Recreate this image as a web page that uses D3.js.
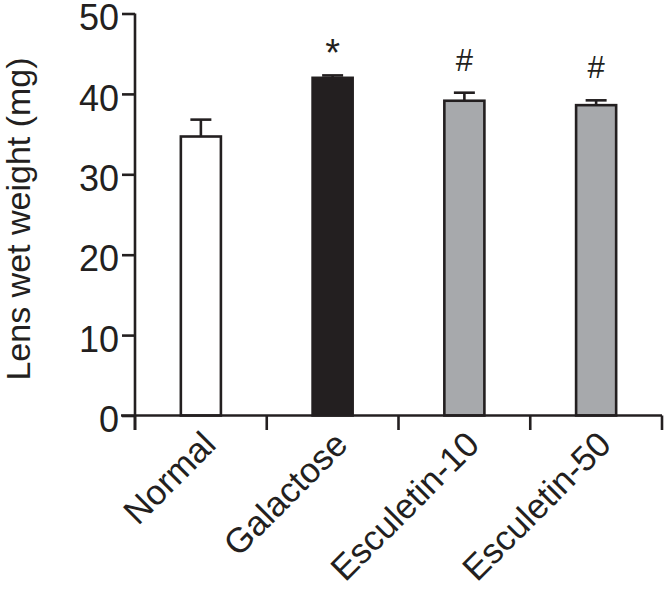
<!DOCTYPE html>
<html>
<head>
<meta charset="utf-8">
<script src="https://cdn.jsdelivr.net/npm/d3@7/dist/d3.min.js"></script>
<style>
  html, body { margin: 0; padding: 0; background: #fff; }
  svg { display: block; }
  text { font-family: "Liberation Sans", Arial, Helvetica, sans-serif; fill: #231f20; }
</style>
</head>
<body>
<svg id="chart" width="664" height="590"></svg>
<script>
const categories = ["Normal", "Galactose", "Esculetin-10", "Esculetin-50"];
const means = [34.7, 42.0, 39.15, 38.6];
const errors = [2.1, 0.3, 1.0, 0.6];
const markers = ["", "*", "#", "#"];
const fills = ["#ffffff", "#231f20", "#a7a9ac", "#a7a9ac"];
const yTicks = [0, 10, 20, 30, 40, 50];
const yTitle = "Lens wet weight (mg)";

const ink = "#231f20";
const svg = d3.select("#chart");

const x = d3.scaleBand().domain(categories).range([135, 662]).paddingInner(0).paddingOuter(0);
const y = d3.scaleLinear().domain([0, 50]).range([415.5, 13.5]);

const barW = x.bandwidth() * 0.304;
const capW = 21;
const sw = 2.6;

const data = categories.map((c, i) => ({c, m: means[i], e: errors[i], mk: markers[i], f: fills[i]}));

// Bars
svg.append("g").selectAll("rect").data(data).join("rect")
  .attr("x", d => x(d.c) + x.bandwidth() / 2 - barW / 2)
  .attr("y", d => y(d.m))
  .attr("width", barW)
  .attr("height", d => y(0) - y(d.m))
  .attr("fill", d => d.f)
  .attr("stroke", ink)
  .attr("stroke-width", sw);

// Error bars
const eg = svg.append("g").attr("stroke", ink).attr("stroke-width", sw);
eg.selectAll("line.v").data(data).join("line").attr("class", "v")
  .attr("x1", d => x(d.c) + x.bandwidth() / 2)
  .attr("x2", d => x(d.c) + x.bandwidth() / 2)
  .attr("y1", d => y(d.m))
  .attr("y2", d => y(d.m + d.e));
eg.selectAll("line.cap").data(data).join("line").attr("class", "cap")
  .attr("x1", d => x(d.c) + x.bandwidth() / 2 - capW / 2)
  .attr("x2", d => x(d.c) + x.bandwidth() / 2 + capW / 2)
  .attr("y1", d => y(d.m + d.e))
  .attr("y2", d => y(d.m + d.e));

// Significance markers
svg.append("g").selectAll("text").data(data.filter(d => d.mk)).join("text")
  .attr("x", d => x(d.c) + x.bandwidth() / 2)
  .attr("y", d => y(d.m + d.e) - (d.mk === "*" ? 9 : 22))
  .attr("text-anchor", "middle")
  .style("font-size", d => d.mk === "*" ? "38px" : "31px")
  .text(d => d.mk);

// Y axis
const yAxis = d3.axisLeft(y).tickValues(yTicks).tickSize(13).tickPadding(3).tickFormat(d3.format("d"));
const yg = svg.append("g").attr("transform", "translate(135,0)").call(yAxis);
yg.select(".domain").remove();
yg.append("line").attr("x1", 0).attr("x2", 0).attr("y1", y(50)).attr("y2", 430)
  .attr("stroke", ink).attr("stroke-width", sw);
yg.selectAll(".tick line").attr("stroke", ink).attr("stroke-width", sw);
yg.selectAll(".tick text").style("font-size", "36px").attr("fill", ink).attr("dy", "0.45em")
  .attr("font-family", "Liberation Sans, Arial, sans-serif");

// X axis
const xg = svg.append("g").attr("transform", `translate(0,${y(0)})`);
xg.append("line").attr("x1", 121).attr("x2", 662).attr("y1", 0).attr("y2", 0)
  .attr("stroke", ink).attr("stroke-width", sw);
const bounds = categories.map(c => x(c)).concat([x(categories[categories.length - 1]) + x.bandwidth()]);
xg.selectAll("line.xt").data(bounds).join("line").attr("class", "xt")
  .attr("x1", d => d).attr("x2", d => d).attr("y1", 0).attr("y2", 14.5)
  .attr("stroke", ink).attr("stroke-width", sw);
xg.selectAll("text").data(categories).join("text")
  .attr("transform", c => `translate(${x(c) + x.bandwidth() / 2 + 17},${31}) rotate(-45)`)
  .attr("text-anchor", "end")
  .style("font-size", "35px")
  .text(c => c);

// Y title
svg.append("text")
  .attr("transform", `translate(30,${(55 + 383) / 2}) rotate(-90)`)
  .attr("text-anchor", "middle")
  .style("font-size", "34px")
  .text(yTitle);
</script>
</body>
</html>
